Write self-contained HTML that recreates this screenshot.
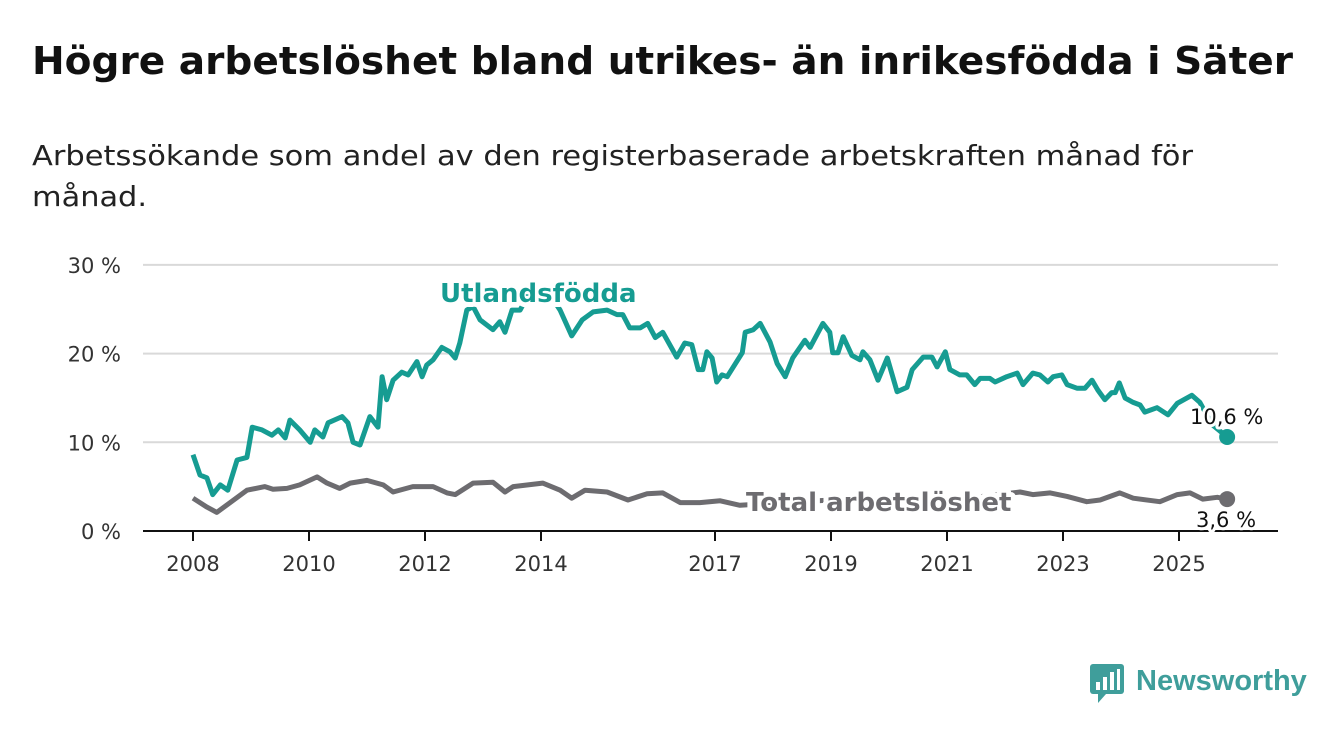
<!DOCTYPE html>
<html><head><meta charset="utf-8"><style>
body{margin:0;background:#fff;width:1340px;height:734px;overflow:hidden;font-family:"Liberation Sans",sans-serif}
</style></head><body>
<svg width="1340" height="734" font-family="'DejaVu Sans','Liberation Sans',sans-serif">
<text x="32" y="74" font-size="38" font-weight="bold" fill="#111" textLength="1261" lengthAdjust="spacingAndGlyphs">Högre arbetslöshet bland utrikes- än inrikesfödda i Säter</text>
<text x="32" y="165" font-size="28" fill="#222" textLength="1161" lengthAdjust="spacingAndGlyphs">Arbetssökande som andel av den registerbaserade arbetskraften månad för</text>
<text x="32" y="206" font-size="28" fill="#222" textLength="115" lengthAdjust="spacingAndGlyphs">månad.</text>
<g id="grid"></g><g id="series"></g><g id="labels"></g>
<g>
<rect x="1090" y="664" width="34" height="30" rx="3" fill="#3f9e9b"/>
<polygon points="1098,694 1106,694 1098,703" fill="#3f9e9b"/>
<rect x="1096" y="682" width="4" height="8" fill="#fff"/><rect x="1103" y="677" width="4" height="13" fill="#fff"/><rect x="1110" y="672" width="4" height="18" fill="#fff"/><rect x="1117" y="669" width="3" height="21" fill="#fff"/>
<text x="1136" y="690" font-family="'Liberation Sans',sans-serif" font-size="29" font-weight="bold" fill="#3f9e9b">Newsworthy</text>
</g>
</svg>
<script>
const yTicks=[0,10,20,30];
const xTickYears=[2008,2010,2012,2014,2017,2019,2021,2023,2025];
const utlYears=[2008.00,2008.12,2008.24,2008.34,2008.47,2008.60,2008.76,2008.93,2009.02,2009.19,2009.36,2009.47,2009.59,2009.67,2009.84,2010.02,2010.10,2010.24,2010.33,2010.57,2010.67,2010.76,2010.88,2011.05,2011.19,2011.26,2011.34,2011.45,2011.60,2011.71,2011.86,2011.95,2012.03,2012.14,2012.29,2012.43,2012.52,2012.60,2012.72,2012.83,2012.95,2013.17,2013.29,2013.38,2013.50,2013.64,2013.81,2014.07,2014.33,2014.53,2014.71,2014.90,2015.14,2015.31,2015.41,2015.53,2015.71,2015.84,2015.97,2016.10,2016.34,2016.48,2016.60,2016.71,2016.79,2016.86,2016.95,2017.03,2017.12,2017.21,2017.47,2017.52,2017.66,2017.78,2017.95,2018.07,2018.21,2018.34,2018.55,2018.64,2018.86,2018.98,2019.03,2019.12,2019.21,2019.36,2019.50,2019.55,2019.67,2019.81,2019.97,2020.14,2020.31,2020.40,2020.59,2020.74,2020.83,2020.97,2021.05,2021.22,2021.34,2021.48,2021.57,2021.74,2021.83,2022.03,2022.21,2022.31,2022.48,2022.60,2022.74,2022.83,2022.98,2023.07,2023.24,2023.38,2023.50,2023.60,2023.72,2023.84,2023.90,2023.97,2024.07,2024.21,2024.33,2024.41,2024.62,2024.81,2024.97,2025.22,2025.36,2025.57,2025.83];
const utlValues=[8.6,6.3,6.0,4.1,5.2,4.6,8.0,8.3,11.7,11.4,10.8,11.4,10.5,12.5,11.4,10.0,11.4,10.6,12.2,12.9,12.2,10.0,9.7,12.9,11.7,17.4,14.8,17.0,17.9,17.6,19.1,17.4,18.7,19.3,20.7,20.2,19.5,21.2,24.9,25.3,23.8,22.7,23.6,22.4,24.9,24.9,27.0,27.5,24.9,22.0,23.8,24.7,24.9,24.4,24.4,22.9,22.9,23.4,21.8,22.4,19.6,21.2,21.0,18.2,18.2,20.2,19.5,16.8,17.6,17.4,20.1,22.4,22.7,23.4,21.3,18.9,17.4,19.5,21.5,20.7,23.4,22.4,20.1,20.1,21.9,19.8,19.3,20.2,19.3,17.0,19.5,15.7,16.2,18.2,19.6,19.6,18.5,20.2,18.2,17.6,17.6,16.5,17.2,17.2,16.8,17.4,17.8,16.5,17.8,17.6,16.8,17.4,17.6,16.5,16.1,16.1,17.0,15.9,14.8,15.6,15.6,16.7,15.0,14.5,14.2,13.4,13.9,13.1,14.4,15.3,14.5,12.0,10.6];
const totYears=[2008.0,2008.24,2008.41,2008.64,2008.93,2009.24,2009.38,2009.62,2009.84,2010.14,2010.31,2010.53,2010.71,2011.0,2011.28,2011.45,2011.79,2012.14,2012.38,2012.52,2012.83,2013.17,2013.38,2013.52,2014.03,2014.33,2014.53,2014.76,2015.14,2015.50,2015.83,2016.10,2016.40,2016.74,2017.09,2017.43,2018.47,2019.84,2021.22,2022.26,2022.48,2022.78,2023.07,2023.41,2023.64,2023.98,2024.21,2024.67,2024.97,2025.19,2025.41,2025.66,2025.83];
const totValues=[3.7,2.7,2.1,3.2,4.6,5.0,4.7,4.8,5.2,6.1,5.4,4.8,5.4,5.7,5.2,4.4,5.0,5.0,4.3,4.1,5.4,5.5,4.4,5.0,5.4,4.6,3.7,4.6,4.4,3.5,4.2,4.3,3.2,3.2,3.4,2.9,3.3,3.8,3.6,4.4,4.1,4.3,3.9,3.3,3.5,4.3,3.7,3.3,4.1,4.3,3.6,3.8,3.6];
const NS='http://www.w3.org/2000/svg';
const X0=143,X1=1278,Y0=531;
const xs=y=>193+(y-2008)*58;
const ys=v=>Y0-v*8.87;
function mk(tag,attrs,parent){const e=document.createElementNS(NS,tag);for(const k in attrs)e.setAttribute(k,attrs[k]);parent.appendChild(e);return e;}
const grid=document.getElementById('grid'),ser=document.getElementById('series'),lab=document.getElementById('labels');
yTicks.forEach(t=>{
  const l=mk('line',{x1:X0,x2:X1,y1:ys(t),y2:ys(t),stroke:t===0?'#111':'#d9d9d9','stroke-width':2},grid);
  
  
  const tx=mk('text',{x:121,y:ys(t)+8,'text-anchor':'end','font-size':21,fill:'#333'},grid);
  tx.textContent=t+' %';
  
  
});
xTickYears.forEach(yr=>{
  const l=mk('line',{x1:xs(yr),x2:xs(yr),y1:Y0,y2:Y0+10,stroke:'#111','stroke-width':2},grid);
  
  
  const tx=mk('text',{x:xs(yr),y:Y0+40,'text-anchor':'middle','font-size':21,fill:'#333'},grid);
  tx.textContent=yr;
  
  
});
function path(yrs,vals){return yrs.map((y,i)=>(i?'L':'M')+xs(y).toFixed(1)+','+ys(vals[i]).toFixed(1)).join('');}
const p1=mk('path',{d:path(totYears,totValues),fill:'none',stroke:'#6d6c70','stroke-width':5,'stroke-linejoin':'round'},ser);


const p2=mk('path',{d:path(utlYears,utlValues),fill:'none',stroke:'#169c92','stroke-width':5,'stroke-linejoin':'round'},ser);


const lu=utlYears.length-1,lt=totYears.length-1;
const d1=mk('circle',{cx:xs(utlYears[lu]),cy:ys(utlValues[lu]),r:8,fill:'#169c92'},ser);


const d2=mk('circle',{cx:xs(totYears[lt]),cy:ys(totValues[lt]),r:8,fill:'#6d6c70'},ser);


function label(txt,x,y,size,weight,fill,name,sw){
  const t=mk('text',{x:x,y:y,'font-size':size,'font-weight':weight,fill:fill,stroke:'#fff','stroke-width':sw,'paint-order':'stroke','stroke-linejoin':'round'},lab);
  t.textContent=txt;
  
  
}
label('Utlandsfödda',440,302,26,'bold','#169c92','utlandsfodda-label',10);
label('Total arbetslöshet',746,511,26,'bold','#6d6c70','total-label',10);
label(utlValues[lu].toFixed(1).replace('.',',')+' %',1190,424,21,'normal','#111','utlandsfodda-value-label',6);
label(totValues[lt].toFixed(1).replace('.',',')+' %',1196,527,21,'normal','#111','total-value-label',6);
</script>
</body></html>
